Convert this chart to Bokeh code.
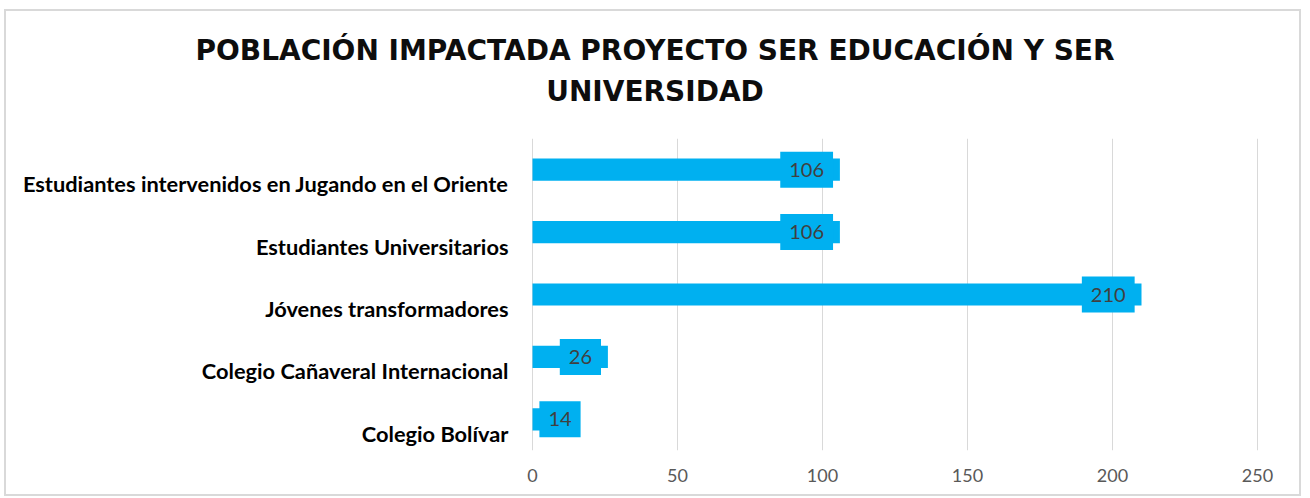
from bokeh.plotting import figure
from bokeh.models import FixedTicker, ColumnDataSource, Title
from bokeh.core.properties import value
from bokeh.embed import file_html
from bokeh.resources import INLINE

# ---- data (bottom to top) ----
categories = ["Colegio Bolívar", "Colegio Cañaveral Internacional", "Jóvenes transformadores",
              "Estudiantes Universitarios", "Estudiantes intervenidos en Jugando en el Oriente"]
values = [14, 26, 210, 106, 106]
x_ticks = [0, 50, 100, 150, 200, 250]
title_lines = ["POBLACIÓN IMPACTADA PROYECTO SER EDUCACIÓN Y SER", "UNIVERSIDAD"]

BAR = "#00B0F0"
FONT = "Lato"
TFONT = "DejaVu Sans"

W, H = 1297, 487
LEFT_PX, RIGHT_PX = 526, 46          # space left / right of the value axis inside the frame
MT, MB = 127, 48
px_per_unit = (W - LEFT_PX - RIGHT_PX) / 250.0

p = figure(width=W, height=H, output_backend="svg", toolbar_location=None,
           x_range=(-LEFT_PX / px_per_unit, 250 + RIGHT_PX / px_per_unit),
           y_range=(-0.5, len(categories) - 0.5),
           min_border_left=0, min_border_right=0, min_border_top=MT, min_border_bottom=MB)
p.styles = {"border": "2px solid #d9d9d9", "margin-left": "4px", "margin-top": "9px"}
p.outline_line_color = None
p.background_fill_color = "white"
p.border_fill_color = "white"

def style_title(t, size="28px"):
    t.align = "center"
    t.text_font = TFONT
    t.text_font_style = "bold"
    t.text_font_size = size
    t.text_color = "#0d0d0d"

# titles stack outward from the frame: spacer, line 2, then p.title (line 1) outermost
spacer = Title(text=" ", text_font_size="10px", standoff=18)
p.add_layout(spacer, "above")
t2 = Title(text=title_lines[1])
style_title(t2)
t2.standoff = 0
p.add_layout(t2, "above")
p.title.text = title_lines[0]
style_title(p.title)
p.title.standoff = 11

ys = list(range(len(categories)))
p.hbar(y=ys, left=0, right=values, height=0.356, color=BAR, line_color=None)

# category labels (offset below the bars, as in the original)
p.text(x=[0] * len(ys), y=ys, text=categories, x_offset=-24, y_offset=14,
       text_align="right", text_baseline="middle", text_font=value(FONT),
       text_font_style="bold", text_font_size="21.8px", text_color="#000000")

# data labels
offsets = []
for v in values:
    half = 7 + (len(str(v)) * 11.5 + 18) / 2
    offsets.append(max(-half, half - v * px_per_unit))
src = ColumnDataSource(dict(x=values, y=ys, t=[str(v) for v in values], xo=offsets))
p.text(x="x", y="y", text="t", x_offset="xo", source=src, text_align="center",
       text_baseline="middle", text_font=value(FONT), text_font_size="20px",
       text_color="#404040", background_fill_color=BAR, padding=(9, 11))

# axes
p.xaxis.ticker = FixedTicker(ticks=x_ticks)
p.xaxis.axis_line_color = None
p.xaxis.major_tick_line_color = None
p.xaxis.minor_tick_line_color = None
p.xaxis.major_label_standoff = 12
p.xaxis.major_label_text_font = FONT
p.xaxis.major_label_text_font_size = "18px"
p.xaxis.major_label_text_color = "#595959"
p.yaxis.visible = False

p.xgrid.grid_line_color = "#d9d9d9"
p.ygrid.grid_line_color = None

open("out.html", "w").write(file_html(p, INLINE))
